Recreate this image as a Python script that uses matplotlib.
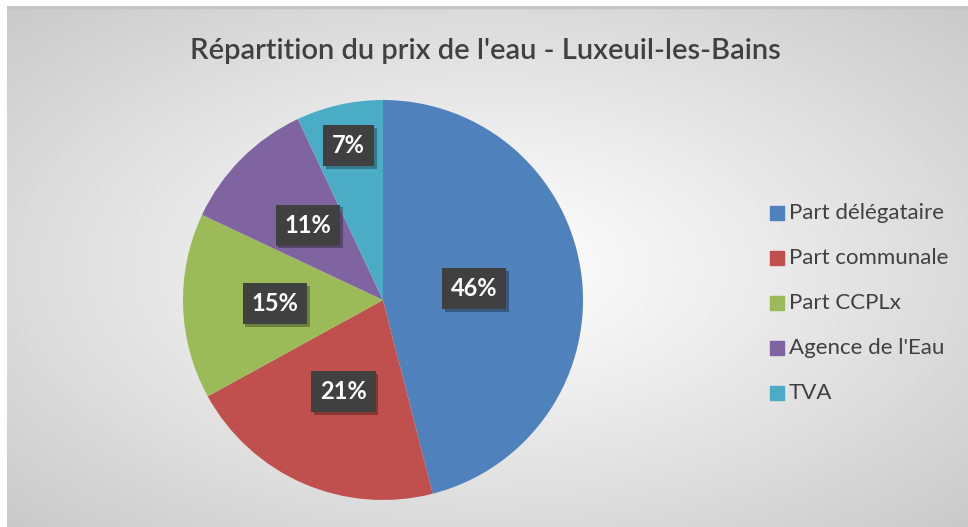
import numpy as np
import matplotlib
matplotlib.use("Agg")
import matplotlib.pyplot as plt
import matplotlib.patheffects as pe
from matplotlib.patches import Rectangle

title = "Répartition du prix de l'eau - Luxeuil-les-Bains"
categories = ["Part délégataire", "Part communale", "Part CCPLx", "Agence de l'Eau", "TVA"]
values = [46, 21, 15, 11, 7]
colors = ["#4F81BD", "#C0504D", "#9BBB59", "#8064A2", "#4BACC6"]
label_dist = [0.46, 0.50, 0.54, 0.53, 0.79]

W, H = 968, 527
fig = plt.figure(figsize=(W / 100, H / 100), dpi=100)
fig.patch.set_facecolor("white")

# radial gradient background (chart area)
bg = fig.add_axes([7 / W, 0, 1 - 7 / W, 1 - 6 / H])
bg.set_axis_off()
ny, nx = 300, 560
yy, xx = np.mgrid[0:ny, 0:nx]
cx, cy = nx * 0.50, ny * 0.50
d = np.sqrt(((xx - cx) / (nx * 0.5)) ** 2 + ((yy - cy) / (ny * 0.5)) ** 2) / np.sqrt(2)
g = 1.0 - 0.21 * np.clip(d, 0, 1) ** 1.1
img = np.dstack([g, g, g])
bg.imshow(img, aspect="auto", extent=[0, 1, 0, 1], interpolation="bilinear")
bg.set_xlim(0, 1)
bg.set_ylim(0, 1)
bg.add_patch(Rectangle((0, 0.996), 1, 0.004, color="#c4c4c4", transform=bg.transAxes))

# pie
cxp, cyp, r = 383, H - 300, 200
ax = fig.add_axes([(cxp - r) / W, (cyp - r) / H, 2 * r / W, 2 * r / H])
wedges, _ = ax.pie(values, colors=colors, startangle=90, counterclock=False,
                   wedgeprops=dict(linewidth=0))
ax.set_aspect("equal")
ax.set_xlim(-1, 1)
ax.set_ylim(-1, 1)

total = sum(values)
for w, v, dist in zip(wedges, values, label_dist):
    ang = np.deg2rad((w.theta1 + w.theta2) / 2)
    x, y = dist * np.cos(ang), dist * np.sin(ang)
    t = ax.text(x, y, f"{round(100 * v / total)}%", ha="center", va="center",
                color="white", fontsize=17, fontweight="bold", family="Lato",
                bbox=dict(boxstyle="square,pad=0.38", fc="#404040", ec="none"))
    t.get_bbox_patch().set_path_effects(
        [pe.SimplePatchShadow(offset=(2, -2), shadow_rgbFace="black", alpha=0.3),
         pe.Normal()])

fig.text(485 / W, 1 - 51 / H, title, ha="center", va="center", fontsize=21,
         color="#404040", family="Lato", fontweight="semibold")

# legend
leg_y = [213, 258, 303, 348, 393]
for lab, col, ly in zip(categories, colors, leg_y):
    fig.patches.append(Rectangle((770 / W, 1 - (ly + 7) / H), 14 / W, 14 / H,
                                 color=col, transform=fig.transFigure))
    fig.text(789 / W, 1 - ly / H, lab, ha="left", va="center", fontsize=16,
             color="#404040", family="Lato")

fig.savefig("out.png", dpi=100)
